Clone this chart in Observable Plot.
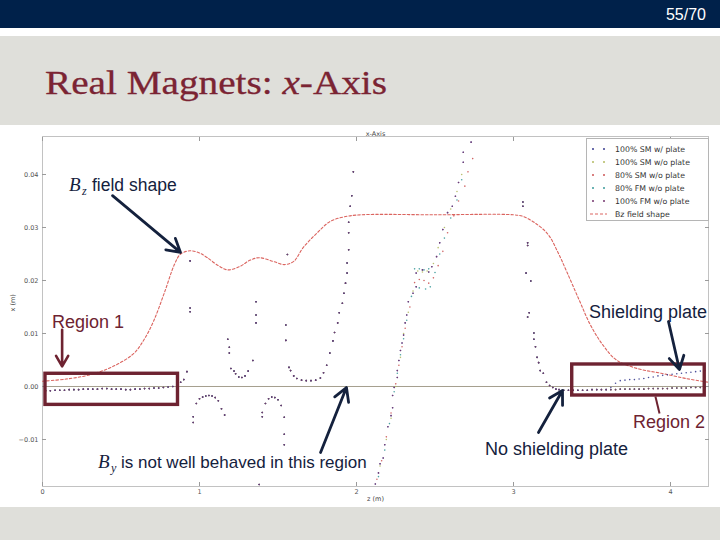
<!DOCTYPE html>
<html><head><meta charset="utf-8">
<script src="https://cdn.jsdelivr.net/npm/d3@7"></script>
<script src="https://cdn.jsdelivr.net/npm/@observablehq/plot@0.6"></script>
<style>
body{margin:0;background:#fff}
#slide{position:relative;width:720px;height:540px;overflow:hidden;background:#fff}
.abs{position:absolute}
</style></head><body>
<div id="slide">
  <div class="abs" style="left:0;top:0;width:720px;height:28px;background:#00214a"></div>
  <div class="abs" style="left:0;top:36px;width:720px;height:89px;background:#dfdfda"></div>
  <div class="abs" style="left:0;top:507px;width:720px;height:33px;background:#dfdfda"></div>
  <div id="chart" class="abs" style="left:0;top:125px;width:720px;height:382px"></div>
  <div id="legend" class="abs" style="left:586px;top:138px;width:121px;height:81px;border:1px solid #b5b5b5;background:#fff"></div>
  <svg id="ann" class="abs" width="720" height="540" style="left:0;top:0;pointer-events:none">
    <text x="706" y="20" text-anchor="end" font-family="Liberation Sans" font-size="16" fill="#ffffff">55/70</text>
    <text x="45" y="94" font-family="Liberation Serif" font-size="34" fill="#7b2433" stroke="#7b2433" stroke-width="0.3" textLength="342" lengthAdjust="spacingAndGlyphs">Real Magnets: <tspan font-style="italic">x</tspan>-Axis</text>
    <g font-family="Liberation Sans" fill="#14213d">
      <text x="69" y="191" font-family="Liberation Serif" font-style="italic" font-size="19">B</text>
      <text x="82" y="195" font-family="Liberation Serif" font-style="italic" font-size="12">z</text>
      <text x="92" y="191" font-size="17.5">field shape</text>
      <text x="589" y="318" font-size="18">Shielding plate</text>
      <text x="485" y="455" font-size="18">No shielding plate</text>
      <text x="98" y="468" font-family="Liberation Serif" font-style="italic" font-size="19">B</text>
      <text x="111" y="472" font-family="Liberation Serif" font-style="italic" font-size="12">y</text>
      <text x="121" y="468" font-size="17">is not well behaved in this region</text>
    </g>
    <g font-family="Liberation Sans" fill="#6e2331" font-size="18">
      <text x="52" y="328">Region 1</text>
      <text x="633" y="428">Region 2</text>
    </g>
  </svg>
</div>
<script>
// ---------- data ----------
const seriesNames = ["100% SM w/ plate","100% SM w/o plate","80% SM w/o plate","80% FM w/o plate","100% FM w/o plate"];
const seriesColors = ["#3a3d8f","#b3ba62","#cc5555","#3a9a9a","#74366e"];
const bzLabel = "Bz field shape";

// Bz field shape (z, x)
const bzZ = [0.00,0.15,0.30,0.45,0.58,0.65,0.71,0.78,0.84,0.88,0.94,1.00,1.05,1.12,1.18,1.26,1.32,1.38,1.47,1.54,1.60,1.66,1.75,1.83,1.92,2.03,2.50,3.00,3.06,3.14,3.22,3.28,3.34,3.42,3.49,3.57,3.66,3.80,3.94,4.10,4.24];
const bzX = [0.0010,0.0014,0.0022,0.0038,0.0062,0.0090,0.0125,0.0180,0.0230,0.0250,0.0256,0.0252,0.0243,0.0228,0.0220,0.0227,0.0238,0.0243,0.0236,0.0230,0.0236,0.0262,0.0290,0.0311,0.0320,0.0324,0.0324,0.0324,0.0321,0.0308,0.0287,0.0255,0.0216,0.0162,0.0116,0.0078,0.0049,0.0033,0.0025,0.0015,0.0008];

// trajectory upstream of z = 2 (all runs coincide)
const upstream = [
[0.02,-0.0008],[0.05,-0.0008],[0.08,-0.0007],[0.11,-0.0007],[0.14,-0.0007],[0.17,-0.0006],[0.20,-0.0006],[0.23,-0.0006],[0.26,-0.0005],[0.29,-0.0005],[0.32,-0.0005],[0.35,-0.0005],[0.38,-0.0004],[0.41,-0.0004],[0.44,-0.0005],[0.47,-0.0005],[0.50,-0.0005],[0.53,-0.0006],[0.56,-0.0006],[0.59,-0.0005],[0.62,-0.0005],[0.65,-0.0004],[0.68,-0.0004],[0.71,-0.0003],[0.74,-0.0003],[0.77,-0.0002],[0.80,-0.0001],[0.83,0.0000],[0.86,0.0003],
[0.88,0.0008],[0.90,0.0013],[0.92,0.0028],[0.94,0.0148],[0.94,0.0141],[0.94,0.0237],
[0.96,-0.0057],[0.96,-0.0068],[0.98,-0.0032],[1.00,-0.0023],[1.02,-0.0020],[1.04,-0.0018],[1.06,-0.0017],[1.08,-0.0018],[1.10,-0.0021],[1.12,-0.0027],[1.14,-0.0042],[1.16,-0.0054],
[1.18,0.0089],[1.19,0.0074],[1.19,0.0063],[1.20,0.0034],[1.22,0.0029],[1.23,0.0024],[1.25,0.0018],[1.27,0.0017],[1.29,0.0020],[1.31,0.0029],[1.34,0.0049],
[1.36,0.0160],[1.36,0.0135],[1.36,0.0120],[1.38,-0.0185],
[1.40,-0.0049],[1.40,-0.0057],[1.42,-0.0032],[1.44,-0.0023],[1.46,-0.0020],[1.48,-0.0021],[1.50,-0.0025],[1.52,-0.0036],[1.54,-0.0058],[1.54,-0.0090],[1.54,-0.0110],
[1.56,0.0249],[1.55,0.0116],[1.55,0.0087],[1.57,0.0036],[1.58,0.0030],[1.60,0.0020],[1.62,0.0015],[1.65,0.0012],[1.68,0.0011],[1.71,0.0011],[1.74,0.0012],[1.77,0.0016],[1.79,0.0026],[1.81,0.0040],[1.83,0.0063],[1.85,0.0086],[1.86,0.0102],[1.88,0.0120],[1.89,0.0139],[1.91,0.0157],[1.92,0.0176],[1.93,0.0195],[1.94,0.0214],[1.94,0.0233],[1.95,0.0258],[1.95,0.0290],[1.95,0.0310],[1.96,0.0340],[1.97,0.0360],[1.98,0.0405]
];

// steep branch z = 2.1 .. 2.75, per run
const steepMain = [[2.12,-0.0184],[2.14,-0.0163],[2.15,-0.0146],[2.17,-0.0135],[2.18,-0.0110],[2.20,-0.0076],[2.22,-0.0055],[2.23,-0.0040],[2.23,-0.0017],[2.24,-0.0002],[2.26,0.0017],[2.26,0.0030],[2.27,0.0049],[2.28,0.0068],[2.29,0.0082],[2.30,0.0097],[2.31,0.0120],[2.32,0.0135],[2.33,0.0160],[2.36,0.0176],[2.38,0.0188],[2.38,0.0214],[2.42,0.0220],[2.46,0.0216],[2.48,0.0226],[2.51,0.0245],[2.53,0.0271],[2.55,0.0296],[2.58,0.0328],[2.61,0.0340],[2.63,0.0359],[2.65,0.0385],[2.68,0.0423],[2.68,0.0442],[2.73,0.0461]];
const steepSM100 = [[2.15,-0.0150],[2.19,-0.0100],[2.22,-0.0060],[2.25,0.0000],[2.28,0.0055],[2.30,0.0100],[2.33,0.0140],[2.36,0.0180],[2.39,0.0218],[2.42,0.0216],[2.45,0.0218],[2.49,0.0232],[2.52,0.0262],[2.56,0.0300],[2.60,0.0335],[2.64,0.0368],[2.67,0.0400]];
const steepSM80 = [[2.13,-0.0175],[2.16,-0.0140],[2.19,-0.0095],[2.22,-0.0050],[2.25,0.0005],[2.27,0.0040],[2.29,0.0075],[2.31,0.0110],[2.34,0.0150],[2.37,0.0196],[2.40,0.0202],[2.43,0.0200],[2.46,0.0195],[2.49,0.0205],[2.52,0.0228],[2.55,0.0255],[2.58,0.0290],[2.62,0.0322],[2.65,0.0350],[2.69,0.0378],[2.71,0.0405],[2.74,0.0430]];
const steepFM80 = [[2.14,-0.0170],[2.18,-0.0120],[2.21,-0.0070],[2.24,-0.0010],[2.26,0.0025],[2.28,0.0060],[2.30,0.0090],[2.32,0.0125],[2.35,0.0170],[2.37,0.0222],[2.40,0.0222],[2.43,0.0220],[2.46,0.0222],[2.40,0.0186],[2.44,0.0184],[2.47,0.0188],[2.50,0.0215],[2.53,0.0250],[2.56,0.0280],[2.60,0.0318],[2.64,0.0352],[2.67,0.0390]];

// downstream z = 3.05 .. 3.3 (all runs)
const downstream = [[3.06,0.0348],[3.06,0.0340],[3.09,0.0271],[3.09,0.0266],[3.08,0.0214],[3.11,0.0199],[3.10,0.0139],[3.09,0.0131],[3.13,0.0101],[3.13,0.0089],[3.14,0.0075],[3.15,0.0055],[3.16,0.0045],[3.17,0.0030],[3.19,0.0025],[3.21,0.0008],[3.23,0.0002],[3.25,-0.0002],[3.27,-0.0005],[3.29,-0.0006]];

// region 2
const tailZ = [3.32,3.35,3.38,3.41,3.44,3.47,3.50,3.53,3.56,3.59,3.62,3.65,3.68,3.71,3.74,3.77,3.80,3.83,3.86,3.89,3.92,3.95,3.98,4.01,4.04,4.07,4.10,4.13,4.16,4.19,4.22];
const tailNoPlate = [-0.0007,-0.0007,-0.0007,-0.0007,-0.0007,-0.0007,-0.0006,-0.0006,-0.0006,-0.0006,-0.0006,-0.0006,-0.0005,-0.0005,-0.0005,-0.0005,-0.0005,-0.0005,-0.0004,-0.0004,-0.0004,-0.0004,-0.0004,-0.0003,-0.0003,-0.0003,-0.0003,-0.0002,-0.0002,-0.0002,-0.0002];
const tailPlate = [-0.0007,-0.0007,-0.0007,-0.0007,-0.0007,-0.0007,-0.0006,-0.0006,-0.0006,-0.0006,-0.0002,0.0006,0.0011,0.0012,0.0013,0.0013,0.0014,0.0015,0.0017,0.0018,0.0020,0.0021,0.0022,0.0023,0.0024,0.0025,0.0026,0.0027,0.0028,0.0029,0.0030];

// axes
const xTicks = [0,1,2,3,4];
const yTicks = [-0.01,0,0.01,0.02,0.03,0.04];
const xDomain = [0,4.242];
const yDomain = [-0.01887,0.04717];

// slide annotations (data coordinates)
const regionBoxes = [{z1:0.019,z2:0.863,x1:-0.00347,x2:0.0024},{z1:3.374,z2:4.218,x1:-0.0017,x2:0.00415}];
const navyArrows = [
  {z1:0.446,x1:0.0360,z2:0.879,x2:0.0253},
  {z1:3.987,x1:0.01226,z2:4.057,x2:0.0032},
  {z1:3.159,x1:-0.00868,z2:3.312,x2:-0.00075},
  {z1:1.771,x1:-0.01245,z2:1.936,x2:-0.0002}
];
const redArrows = [{z1:0.125,x1:0.0107,z2:0.125,x2:0.0038}];
const redLinks = [{z1:3.904,x1:-0.0019,z2:3.93,x2:-0.0051}];

// ---------- build table ----------
const runs = [
  {i:1, steep:steepSM100, tail:tailNoPlate},
  {i:2, steep:steepSM80, tail:tailNoPlate},
  {i:3, steep:steepFM80, tail:tailNoPlate},
  {i:0, steep:steepMain, tail:tailPlate},
  {i:4, steep:steepMain, tail:tailNoPlate}
];
const rows = [];
for (const r of runs) {
  const s = seriesNames[r.i];
  for (const [z,x] of upstream) rows.push({z,x,s});
  for (const [z,x] of r.steep) rows.push({z,x,s});
  for (const [z,x] of downstream) rows.push({z,x,s});
  tailZ.forEach((z,k) => rows.push({z, x:r.tail[k], s}));
}
const bzRows = bzZ.map((z,k) => ({z, x:bzX[k]}));
const yFmt = d => (d < 0 ? "\u2212" : "") + Math.abs(d).toFixed(2);

const chart = Plot.plot({
  width:720, height:382,
  marginLeft:42, marginRight:12, marginTop:11, marginBottom:21,
  style:{fontFamily:"DejaVu Sans", background:"transparent"},
  x:{domain:xDomain, axis:null},
  y:{domain:yDomain, axis:null},
  color:{domain:seriesNames, range:seriesColors},
  marks:[
    Plot.frame({stroke:"#c2c2c2"}),
    Plot.ruleY([0], {stroke:"#a59f8e", strokeWidth:1}),
    Plot.line(bzRows, {x:"z", y:"x", stroke:"#db6560", strokeWidth:1.1, strokeDasharray:"2.5 2", curve:"catmull-rom"}),
    Plot.dot(rows, {x:"z", y:"x", fill:"s", r:0.8, stroke:null, fillOpacity:0.9}),
    Plot.axisX(xTicks, {anchor:"bottom", tickSize:-4, fill:"none", stroke:"#9a9a9a", label:null}),
    Plot.axisX(xTicks, {anchor:"top", tickSize:-4, fill:"none", stroke:"#9a9a9a", label:null}),
    Plot.axisY(yTicks, {anchor:"left", tickSize:-4, fill:"none", stroke:"#9a9a9a", label:null}),
    Plot.axisY(yTicks, {anchor:"right", tickSize:-4, fill:"none", stroke:"#9a9a9a", label:null}),
    Plot.axisX(xTicks, {anchor:"bottom", tickSize:0, tickPadding:3, fontSize:6.5, fill:"#555", label:null, tickFormat:d => String(d)}),
    Plot.axisY(yTicks, {anchor:"left", tickSize:0, tickPadding:4, fontSize:6.5, fill:"#555", label:null, tickFormat:yFmt}),
    Plot.text(["z (m)"], {frameAnchor:"bottom", dy:14, fontSize:6.5, fill:"#444"}),
    Plot.text(["x (m)"], {frameAnchor:"left", dx:-30, rotate:-90, fontSize:6.5, fill:"#444"}),
    Plot.text(["x-Axis"], {frameAnchor:"top", dy:-5, fontSize:6.5, fill:"#444"}),
    Plot.rect(regionBoxes, {x1:"z1", x2:"z2", y1:"x1", y2:"x2", fill:"none", stroke:"#6e2331", strokeWidth:3.4}),
    Plot.arrow(navyArrows, {x1:"z1", y1:"x1", x2:"z2", y2:"x2", stroke:"#14213d", strokeWidth:2.8, headLength:8}),
    Plot.arrow(redArrows, {x1:"z1", y1:"x1", x2:"z2", y2:"x2", stroke:"#6e2331", strokeWidth:2.6, headLength:7}),
    Plot.link(redLinks, {x1:"z1", y1:"x1", x2:"z2", y2:"x2", stroke:"#6e2331", strokeWidth:2})
  ]
});
document.getElementById("chart").append(chart);

// legend
const lg = d3.select("#legend").append("svg").attr("width",121).attr("height",81);
seriesNames.forEach((n,i) => {
  const cy = 10 + 13*i;
  lg.append("circle").attr("cx",6).attr("cy",cy).attr("r",1).attr("fill",seriesColors[i]);
  lg.append("circle").attr("cx",17).attr("cy",cy).attr("r",1).attr("fill",seriesColors[i]);
  lg.append("text").attr("x",28).attr("y",cy).attr("dy","0.35em").attr("font-family","DejaVu Sans").attr("font-size",7.8).attr("fill","#333").text(n);
});
{
  const cy = 10 + 13*5;
  lg.append("line").attr("x1",3).attr("x2",20).attr("y1",cy).attr("y2",cy).attr("stroke","#db6560").attr("stroke-width",1).attr("stroke-dasharray","3 2");
  lg.append("text").attr("x",28).attr("y",cy).attr("dy","0.35em").attr("font-family","DejaVu Sans").attr("font-size",7.8).attr("fill","#333").text(bzLabel);
}
</script>
</body></html>
